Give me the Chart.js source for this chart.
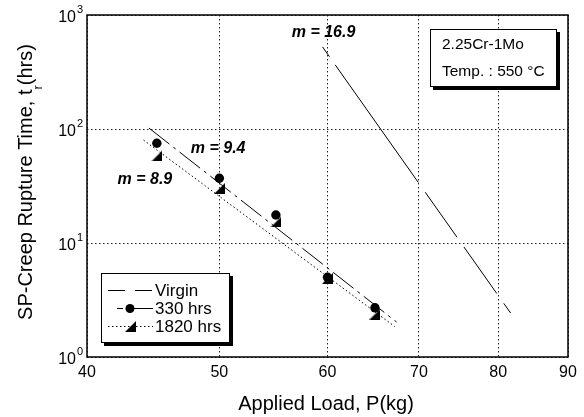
<!DOCTYPE html>
<html>
<head>
<meta charset="utf-8">
<script src="https://cdn.jsdelivr.net/npm/chart.js@4.4.1/dist/chart.umd.min.js"></script>
<style>
  html, body { margin: 0; padding: 0; background: #fff; }
</style>
</head>
<body>
<canvas id="chart" width="584" height="417"></canvas>
<script>
(function () {
  'use strict';

  // measured points (load in kg, rupture time in hrs)
  const loads = [45, 50, 55, 60, 65];
  const rupture330 = [75, 37, 17.6, 5.0, 2.7];
  const rupture1820 = [58, 30, 15.3, 4.9, 2.38];

  // fitted lines (end points)
  const virginLoad = [59.5, 81.7];
  const virginTime = [525, 2.43];
  const fit330Load = [44.4, 67.4];
  const fit330Time = [102, 2.03];
  const fit1820Load = [44.0, 67.2];
  const fit1820Time = [80, 1.85];

  // axes
  const xTicks = [40, 50, 60, 70, 80, 90];
  const yTicks = [1, 10, 100, 1000];
  const yExps = ['0', '1', '2', '3'];

  // slope labels
  const slopeText = ['m = 16.9', 'm = 9.4', 'm = 8.9'];
  const slopeLoad = [59.6, 49.9, 44.1];
  const slopeTime = [695, 68, 35.7];

  const FONT = '"Liberation Sans", Arial, Helvetica, sans-serif';

  function pairs(xs, ys) {
    return xs.map((v, i) => ({ x: v, y: ys[i] }));
  }

  function makeTriangle() {
    const c = document.createElement('canvas');
    c.width = 11;
    c.height = 11;
    const g = c.getContext('2d');
    g.fillStyle = '#000';
    g.beginPath();
    g.moveTo(0, 11);
    g.lineTo(11, 11);
    g.lineTo(11, 0);
    g.closePath();
    g.fill();
    return c;
  }
  const triangle = makeTriangle();

  const paper = {
    id: 'paper',
    afterDraw(chart) {
      const ctx = chart.ctx;
      const a = chart.chartArea;
      const sx = chart.scales.x;
      const sy = chart.scales.y;
      ctx.save();
      ctx.fillStyle = '#000';
      ctx.strokeStyle = '#000';

      // frame
      ctx.lineWidth = 1.5;
      ctx.strokeRect(a.left, a.top, a.right - a.left, a.bottom - a.top);

      // x tick labels
      ctx.font = '16px ' + FONT;
      ctx.textAlign = 'center';
      ctx.textBaseline = 'middle';
      xTicks.forEach(v => ctx.fillText(String(v), sx.getPixelForValue(v), a.bottom + 16));

      // y tick labels 10^n
      yTicks.forEach((v, i) => {
        const py = sy.getPixelForValue(v);
        ctx.font = '16px ' + FONT;
        ctx.textAlign = 'right';
        ctx.fillText('10', a.left - 11, py + 3);
        ctx.font = '11px ' + FONT;
        ctx.textAlign = 'left';
        ctx.fillText(yExps[i], a.left - 10, py - 5);
      });

      // x title
      ctx.font = '20px ' + FONT;
      ctx.textAlign = 'center';
      ctx.fillText('Applied Load, P(kg)', 326, 404);

      // y title with subscript
      ctx.save();
      ctx.translate(25, 182);
      ctx.rotate(-Math.PI / 2);
      ctx.textBaseline = 'alphabetic';
      ctx.textAlign = 'left';
      const p1 = 'SP-Creep Rupture Time, t';
      const p2 = '(hrs)';
      ctx.font = '20px ' + FONT;
      const w1 = ctx.measureText(p1).width;
      const w2 = ctx.measureText(p2).width;
      ctx.font = '13px ' + FONT;
      const ws = ctx.measureText('r').width;
      let x0 = -(w1 + ws + w2) / 2;
      ctx.font = '20px ' + FONT;
      ctx.fillText(p1, x0, 7);
      ctx.font = '13px ' + FONT;
      ctx.fillText('r', x0 + w1, 17);
      ctx.font = '20px ' + FONT;
      ctx.fillText(p2, x0 + w1 + ws, 7);
      ctx.restore();

      // slope labels
      ctx.font = 'italic bold 16px ' + FONT;
      ctx.textAlign = 'center';
      ctx.textBaseline = 'middle';
      slopeText.forEach((t, i) => {
        ctx.fillText(t, sx.getPixelForValue(slopeLoad[i]), sy.getPixelForValue(slopeTime[i]));
      });

      // material box
      ctx.fillRect(433, 32, 127, 58);
      ctx.fillStyle = '#fff';
      ctx.fillRect(430, 29, 127, 58);
      ctx.lineWidth = 1;
      ctx.strokeRect(430.5, 29.5, 126, 57);
      ctx.fillStyle = '#000';
      ctx.font = '15.5px ' + FONT;
      ctx.textAlign = 'left';
      ctx.fillText('2.25Cr-1Mo', 442, 45);
      ctx.fillText('Temp. : 550 \u00B0C', 442, 72);

      // legend box
      ctx.fillRect(104, 276, 129, 70);
      ctx.fillStyle = '#fff';
      ctx.fillRect(101, 273, 129, 70);
      ctx.strokeRect(101.5, 273.5, 128, 69);
      ctx.fillStyle = '#000';
      ctx.font = '17px ' + FONT;
      ctx.fillText('Virgin', 155, 291);
      ctx.fillText('330 hrs', 155, 309);
      ctx.fillText('1820 hrs', 155, 327);

      ctx.lineWidth = 1;
      ctx.setLineDash([17, 10]);
      ctx.beginPath();
      ctx.moveTo(108, 290.5);
      ctx.lineTo(153, 290.5);
      ctx.stroke();

      ctx.setLineDash([]);
      ctx.beginPath();
      ctx.moveTo(117, 308.5);
      ctx.lineTo(123, 308.5);
      ctx.moveTo(134, 308.5);
      ctx.lineTo(153, 308.5);
      ctx.stroke();
      ctx.beginPath();
      ctx.arc(130, 308.5, 4.5, 0, Math.PI * 2);
      ctx.fill();

      ctx.setLineDash([1.5, 2.5]);
      ctx.beginPath();
      ctx.moveTo(108, 326.5);
      ctx.lineTo(153, 326.5);
      ctx.stroke();
      ctx.setLineDash([]);
      ctx.drawImage(triangle, 125, 321);

      ctx.restore();
    }
  };

  const lineBase = {
    type: 'line',
    showLine: true,
    borderColor: '#000',
    borderWidth: 1,
    pointRadius: 0,
    fill: false
  };

  new Chart(document.getElementById('chart'), {
    type: 'scatter',
    data: {
      datasets: [
        Object.assign({}, lineBase, {
          label: 'Virgin',
          data: pairs(virginLoad, virginTime),
          borderDash: [12, 10, 144, 12, 55, 12, 57, 12, 12, 10]
        }),
        Object.assign({}, lineBase, {
          label: '330 hrs fit',
          data: pairs(fit330Load, fit330Time),
          borderDash: [26, 5, 3, 5]
        }),
        Object.assign({}, lineBase, {
          label: '1820 hrs fit',
          data: pairs(fit1820Load, fit1820Time),
          borderDash: [1.5, 2.5]
        }),
        {
          label: '330 hrs',
          data: pairs(loads, rupture330),
          pointStyle: 'circle',
          pointRadius: 4.7,
          backgroundColor: '#000',
          borderColor: '#000',
          borderWidth: 0,
          showLine: false
        },
        {
          label: '1820 hrs',
          data: pairs(loads, rupture1820),
          pointStyle: triangle,
          pointRadius: 6,
          showLine: false
        }
      ]
    },
    options: {
      responsive: false,
      animation: false,
      layout: { padding: { top: 15, right: 16, left: 0, bottom: 0 } },
      plugins: {
        legend: { display: false },
        tooltip: { enabled: false }
      },
      scales: {
        x: {
          type: 'logarithmic',
          min: 40,
          max: 90,
          afterBuildTicks: s => { s.ticks = xTicks.map(v => ({ value: v })); },
          afterFit: s => { s.height = 60; },
          ticks: { display: false },
          grid: { color: '#222', lineWidth: 1, drawTicks: false },
          border: { display: false, dash: [1.5, 2.5] }
        },
        y: {
          type: 'logarithmic',
          min: 1,
          max: 1000,
          afterBuildTicks: s => { s.ticks = yTicks.map(v => ({ value: v })); },
          afterFit: s => { s.width = 87; },
          ticks: { display: false },
          grid: { color: '#222', lineWidth: 1, drawTicks: false },
          border: { display: false, dash: [1.5, 2.5] }
        }
      }
    },
    plugins: [paper]
  });
})();
</script>
</body>
</html>
